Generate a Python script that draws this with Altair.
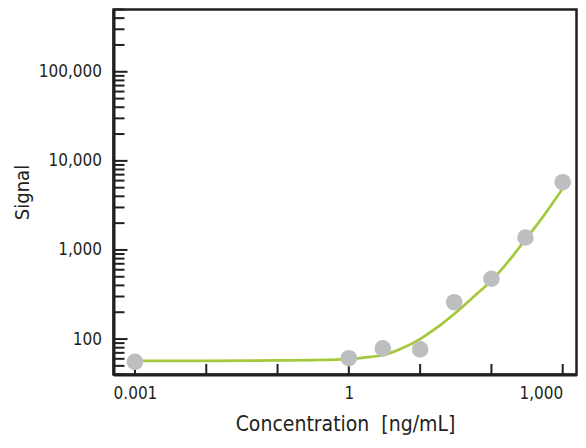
import altair as alt
import pandas as pd

# Measured points
conc = [0.001, 1, 3, 10, 30, 100, 300, 1000]
signal = [55.5, 61, 78.5, 76.5, 259, 475, 1380, 5760]

# Fitted curve
curve_x = [0.001, 0.01, 0.1, 0.3, 1, 2, 3, 5, 10, 16, 20, 30, 60, 100, 200, 300, 500, 1000]
curve_y = [57, 57, 57.5, 58, 59.5, 63, 66, 76, 100, 129, 147, 191, 312, 452, 860, 1310, 2220, 4900]

# Axis ticks
x_ticks = [0.001, 0.01, 0.1, 1, 10, 100, 1000]
x_labels = [0.001, 1, 1000]
y_major = [100, 1000, 10000, 100000]
y_minor = [40, 50, 60, 70, 80, 90,
           200, 300, 400, 500, 600, 700, 800, 900,
           2000, 3000, 4000, 5000, 6000, 7000, 8000, 9000,
           20000, 30000, 40000, 50000, 60000, 70000, 80000, 90000,
           200000, 300000, 400000, 500000]

FONT = "DejaVu Sans Condensed, Liberation Sans Narrow, sans-serif"
DARK = "#231f20"
W, H = 463, 365

xs = alt.Scale(type="log", domain=[0.0005, 1561], nice=False)
ys = alt.Scale(type="log", domain=[40, 500000], nice=False)

x_axis = alt.Axis(values=x_labels, ticks=False, tickSize=0, grid=False,
                  domainColor=DARK, domainWidth=3,
                  labelExpr="datum.value < 1 ? format(datum.value, '.3f') : format(datum.value, ',.0f')",
                  labelFont=FONT, labelFontSize=17, labelColor=DARK, labelPadding=11,
                  labelFlush=15,
                  titleFont=FONT, titleFontSize=21, titleFontWeight="normal",
                  titleColor=DARK, titlePadding=12)
y_axis = alt.Axis(values=y_major, ticks=False, tickSize=0, grid=False,
                  domainColor=DARK, domainWidth=3, format=",",
                  labelFont=FONT, labelFontSize=17, labelColor=DARK, labelPadding=12,
                  labelFlush=False,
                  titleFont=FONT, titleFontSize=20, titleFontWeight="normal",
                  titleColor=DARK, titlePadding=6)
X_TITLE = "Concentration\u00a0\u00a0[ng/mL]"
Y_TITLE = "Signal"

pts = pd.DataFrame({"x": conc, "y": signal})
crv = pd.DataFrame({"x": curve_x, "y": curve_y})
xt = pd.DataFrame({"x": x_ticks})
ymaj = pd.DataFrame({"y": y_major})
ymin = pd.DataFrame({"y": y_minor})

line = alt.Chart(crv).mark_line(color="#a4c93b", strokeWidth=2.7, interpolate="monotone").encode(
    x=alt.X("x:Q", scale=xs, title=X_TITLE, axis=x_axis),
    y=alt.Y("y:Q", scale=ys, title=Y_TITLE, axis=y_axis),
)

x_ticks_layer = alt.Chart(xt).mark_rule(color=DARK, strokeWidth=2).encode(
    x=alt.X("x:Q", scale=xs, title=X_TITLE, axis=x_axis),
    y=alt.value(H),
    y2=alt.value(H - 10.5),
)
y_major_layer = alt.Chart(ymaj).mark_rule(color=DARK, strokeWidth=2).encode(
    y=alt.Y("y:Q", scale=ys, title=Y_TITLE, axis=y_axis),
    x=alt.value(0),
    x2=alt.value(14),
)
y_minor_layer = alt.Chart(ymin).mark_rule(color=DARK, strokeWidth=2).encode(
    y=alt.Y("y:Q", scale=ys, title=Y_TITLE, axis=y_axis),
    x=alt.value(0),
    x2=alt.value(11),
)

points = alt.Chart(pts).mark_circle(color="#bcbec0", opacity=1, size=275).encode(
    x=alt.X("x:Q", scale=xs, title=X_TITLE, axis=x_axis),
    y=alt.Y("y:Q", scale=ys, title=Y_TITLE, axis=y_axis),
)

chart = alt.layer(line, x_ticks_layer, y_major_layer, y_minor_layer, points).properties(
    width=W, height=H,
    autosize=alt.AutoSizeParams(type="none"),
    padding={"left": 105.5, "top": 1.5, "right": 1.5, "bottom": 63},
    background="white",
).configure_view(stroke=DARK, strokeWidth=2.5)

chart.save("out.html", embed_options={"renderer": "svg", "actions": False})
